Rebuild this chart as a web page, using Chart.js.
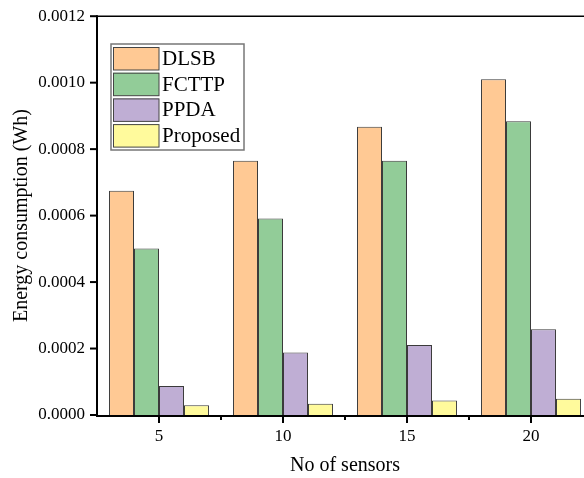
<!DOCTYPE html>
<html>
<head>
<meta charset="utf-8">
<script src="https://cdn.jsdelivr.net/npm/chart.js@4"></script>
<style>
html,body{margin:0;padding:0;background:#fff;overflow:hidden;width:584px;height:478px;}
#wrap{width:600px;height:484px;margin-top:-6px;}
</style>
</head>
<body>
<div id="wrap"><canvas id="c" width="600" height="484"></canvas></div>
<script>
const categories = ['5', '10', '15', '20'];
const seriesNames = ['DLSB', 'FCTTP', 'PPDA', 'Proposed'];
const dlsb = [0.000675, 0.000765, 0.000867, 0.00101];
const fcttp = [0.000501, 0.000591, 0.000765, 0.000884];
const ppda = [0.000087, 0.000188, 0.000211, 0.000258];
const proposed = [0.000029, 0.000034, 0.000044, 0.000049];
const yTicks = [0, 0.0002, 0.0004, 0.0006, 0.0008, 0.0010, 0.0012];
const colors = ['#FFC994', '#92CC98', '#BFAED4', '#FFFA9C'];
const xTitle = 'No of sensors';
const yTitle = 'Energy consumption (Wh)';

const FONT = '"Liberation Serif", "Times New Roman", serif';
const OFF = 6; // canvas is shifted up by this many px

const axesPlugin = {
  id: 'axesPlugin',
  afterDraw(chart) {
    const ctx = chart.ctx;
    const a = chart.chartArea;
    const xs = chart.scales.x, ys = chart.scales.y;
    ctx.save();
    ctx.strokeStyle = '#000';
    ctx.lineWidth = 1.5;
    ctx.beginPath(); ctx.moveTo(a.left, a.top); ctx.lineTo(a.right, a.top); ctx.stroke();
    ctx.lineWidth = 2;
    ctx.beginPath(); ctx.moveTo(a.left, a.top - 1); ctx.lineTo(a.left, a.bottom + 1); ctx.lineTo(a.right, a.bottom + 1); ctx.stroke();
    yTicks.forEach(v => {
      const y = ys.getPixelForValue(v);
      ctx.beginPath(); ctx.moveTo(a.left - 7, y); ctx.lineTo(a.left, y); ctx.stroke();
    });
    categories.forEach((c, i) => {
      const x = xs.getPixelForValue(i);
      ctx.beginPath(); ctx.moveTo(x, a.bottom); ctx.lineTo(x, a.bottom + 8); ctx.stroke();
      if (i < categories.length - 1) {
        const xm = (x + xs.getPixelForValue(i + 1)) / 2;
        ctx.beginPath(); ctx.moveTo(xm, a.bottom); ctx.lineTo(xm, a.bottom + 5); ctx.stroke();
      }
    });
    const lx = 111, ly = 44 + OFF, lw = 133, lh = 106;
    ctx.fillStyle = '#fff';
    ctx.fillRect(lx, ly, lw, lh);
    ctx.strokeStyle = '#777';
    ctx.lineWidth = 1.5;
    ctx.strokeRect(lx, ly, lw, lh);
    ctx.font = '21px ' + FONT;
    ctx.textBaseline = 'middle';
    chart.data.datasets.forEach((ds, i) => {
      const sy = 47 + OFF + i * 25.7;
      ctx.fillStyle = ds.backgroundColor;
      ctx.fillRect(113, sy, 46, 23);
      ctx.strokeStyle = '#444';
      ctx.lineWidth = 1;
      ctx.strokeRect(113.5, sy + 0.5, 45.5, 22.5);
      ctx.fillStyle = '#000';
      ctx.fillText(ds.label, 162, sy + 12.5);
    });
    ctx.restore();
  }
};

const seriesValues = [dlsb, fcttp, ppda, proposed];
new Chart(document.getElementById('c'), {
  type: 'bar',
  data: {
    labels: categories,
    datasets: seriesNames.map((n, i) => ({
      label: n,
      data: seriesValues[i],
      backgroundColor: colors[i],
      borderColor: '#3a3a3a',
      borderWidth: 1,
      categoryPercentage: 0.806,
      barPercentage: 1.0
    }))
  },
  options: {
    responsive: false,
    animation: false,
    devicePixelRatio: 1,
    layout: { padding: { left: 0, top: 6, right: 7, bottom: 0 } },
    plugins: { legend: { display: false }, tooltip: { enabled: false } },
    scales: {
      x: {
        type: 'category',
        offset: true,
        grid: { display: false, drawTicks: false },
        border: { display: false },
        ticks: { color: '#000', font: { family: FONT, size: 17 }, padding: 11, maxRotation: 0 },
        title: { display: true, text: xTitle, color: '#000', font: { family: FONT, size: 20 }, padding: { top: 17, bottom: 0 } },
        afterFit(s) { s.height = 63; }
      },
      y: {
        min: 0, max: 0.0012,
        afterBuildTicks(s) { s.ticks = yTicks.map(v => ({ value: v })); },
        grid: { display: false, drawTicks: false },
        border: { display: false },
        ticks: { color: '#000', font: { family: FONT, size: 17 }, padding: 12, callback: v => Number(v).toFixed(4) },
        title: { display: true, text: yTitle, color: '#000', font: { family: FONT, size: 20 }, padding: { top: 10, bottom: 2 } },
        afterFit(s) { s.width = 97; }
      }
    }
  },
  plugins: [axesPlugin]
});
</script>
</body>
</html>
